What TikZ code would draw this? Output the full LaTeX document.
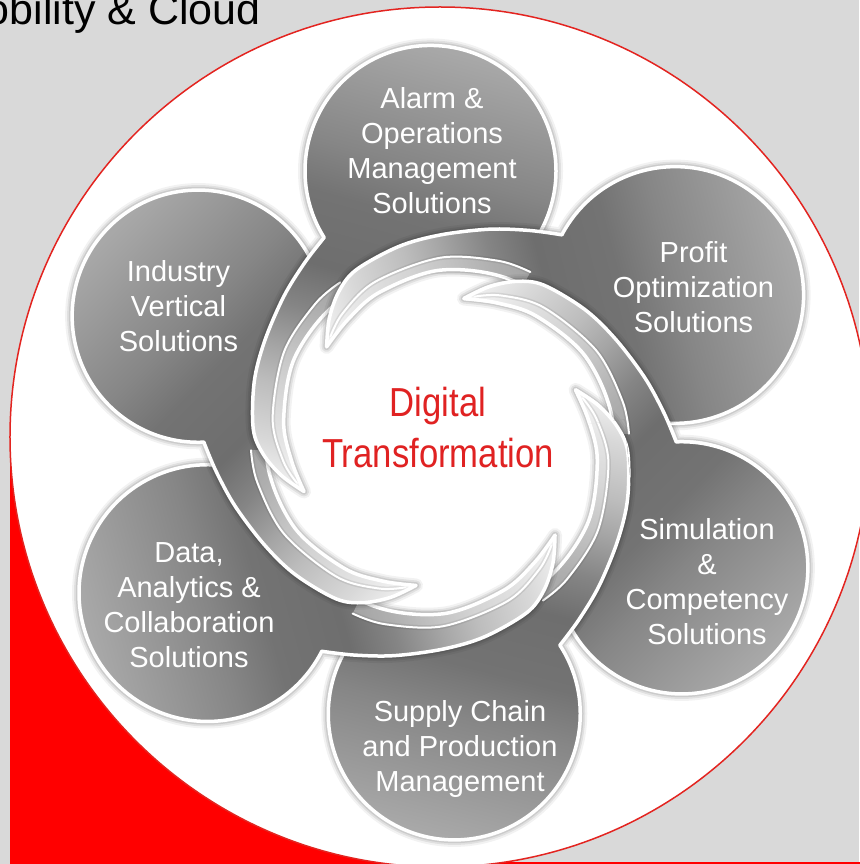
\documentclass[tikz,border=0pt]{standalone}
\usepackage{fontspec}
\setmainfont{Liberation Sans}
\newfontfamily\narrowfont[FakeStretch=0.856]{Liberation Sans}
\definecolor{bggrey}{HTML}{D9D9D9}
\definecolor{ringred}{HTML}{E32420}
\definecolor{fillred}{HTML}{FF0000}
\definecolor{titlered}{HTML}{E02222}
\definecolor{pgA}{HTML}{F2F2F2}
\definecolor{pgB}{HTML}{D8D8D8}
\definecolor{pgC}{HTML}{BDBDBD}
\definecolor{pgD}{HTML}{A6A6A6}
\definecolor{pgE}{HTML}{858585}
\definecolor{pgF}{HTML}{6E6E6E}
\definecolor{pgG}{HTML}{737373}
\definecolor{pgH}{HTML}{868686}
\definecolor{pgI}{HTML}{A8A8A8}
\pgfdeclarehorizontalshading{petalshade}{100bp}{color(0bp)=(pgA); color(30.17bp)=(pgA); color(33.62bp)=(pgB); color(38.36bp)=(pgC); color(41.38bp)=(pgD); color(45.26bp)=(pgE); color(49.14bp)=(pgF); color(55.17bp)=(pgG); color(59.48bp)=(pgH); color(69.57bp)=(pgI); color(100bp)=(pgI)}
\def\petalpath{(206,107.4) arc[start angle=120, end angle=-145, radius=124] -- (-10:174) -- plot[smooth, tension=0.55] coordinates {(-10:174) (10:173) (35:171) (58:166) (80:156) (95:148) (108:143)} -- plot[smooth, tension=0.55] coordinates {(108:143) (100:160) (92:175) (84:185) (70:193) (58:200) (45:211) (35:222) (27.5:232.3)} -- cycle}
\def\bevelpath{plot[smooth, tension=0.55] coordinates {(30:171.5) (35:171) (58:166) (80:156) (95:148) (108:143)} -- plot[smooth, tension=0.55] coordinates {(108:143) (104:147) (95:156) (80:167) (58:178) (40:184) (30:186)} -- cycle}
\def\bevelline{plot[smooth, tension=0.55] coordinates {(104:147) (95:156) (80:167) (58:178) (40:184) (30:186)}}
% #1 = angle of the head, #2 = size factor
\newcommand\petalhalo[2]{%
  \draw[rotate=#1, scale=#2, black, opacity=0.05, line width=14pt, line join=round] \petalpath;
  \draw[rotate=#1, scale=#2, black, opacity=0.07, line width=10pt, line join=round] \petalpath;
  \draw[rotate=#1, scale=#2, black, opacity=0.09, line width=6.5pt, line join=round] \petalpath;
}
\newcommand\petalbody[2]{%
  \begin{scope}
    \clip[rotate=#1, scale=#2] \petalpath;
    \begin{scope}[transform canvas={rotate=#1, scale=#2, shift={(108:143)}, rotate=-17.3}]
      \shade[shading=petalshade] (-60,-300) rectangle (520,300);
    \end{scope}
    \fill[rotate=#1, scale=#2, white, opacity=0.35] \bevelpath;
    \draw[rotate=#1, scale=#2, black, opacity=0.08, line width=5pt] \bevelline;
    \draw[rotate=#1, scale=#2, white, line width=2pt, line cap=round] \bevelline;
  \end{scope}
  \draw[rotate=#1, scale=#2, white, line width=3.5pt, line join=round] \petalpath;
}
\newcommand\haloover[4]{% halo of petal (#1,#2) clipped to petal (#3,#4)
  \begin{scope}
    \clip[rotate=#3, scale=#4] \petalpath;
    \petalhalo{#1}{#2}
  \end{scope}
}
\newcommand\drawpetal[2]{\petalhalo{#1}{#2}\petalbody{#1}{#2}}
\tikzset{
  petaltext/.style={text=white, align=center, inner sep=0pt, font=\fontsize{29}{35}\selectfont},
  centertext/.style={text=titlered, align=center, inner sep=0pt, font=\narrowfont\fontsize{40.5}{51}\selectfont},
  titletext/.style={text=black, inner sep=0pt, font=\fontsize{43}{50}\selectfont}
}
\begin{document}
\begin{tikzpicture}[x=1pt, y=1pt]
\useasboundingbox (-440,-422) rectangle (419,442);
\fill[bggrey] (-440,-422) rectangle (419,442);
\fill[fillred] (-430,-430) rectangle (0,5);
\fill[fillred] (0,-419.5) rectangle (430,-430);
\draw[ringred, line width=1.5pt, fill=white] (0,5) circle (430);
% petals: each tail lies above the head of the next petal
\drawpetal{332.5}{1.017}
\drawpetal{273}{1.016}
\drawpetal{213}{1.035}
\drawpetal{152.5}{1.017}
\drawpetal{92}{1.012}
\drawpetal{32}{1.035}
% close the ring: the first two tails go back on top of the last heads
\begin{scope}
  \clip (0,0) -- (7:186) -- (-12:195) -- (-12:412) arc[start angle=-12, end angle=92, radius=412] -- cycle;
  \haloover{332.5}{1.017}{32}{1.035}
  \haloover{332.5}{1.017}{92}{1.012}
  \petalbody{332.5}{1.017}
  \haloover{273}{1.016}{32}{1.035}
  \haloover{273}{1.016}{92}{1.012}
  \haloover{273}{1.016}{332.5}{1.017}
  \petalbody{273}{1.016}
\end{scope}
% texts
\node[petaltext] (alarm) at (-8,291) {Alarm \&\\Operations\\Management\\Solutions};
\node[petaltext] (profit) at (253.5,155) {Profit\\Optimization\\Solutions};
\node[petaltext] (industry) at (-261.5,136) {Industry\\Vertical\\Solutions};
\node[petaltext] (sim) at (267,-140) {Simulation\\\&\\Competency\\Solutions};
\node[petaltext] (supply) at (20,-307) {Supply Chain\\and Production\\Management};
\node[petaltext] (data) at (-251,-163.5) {Data,\\Analytics \&\\Collaboration\\Solutions};
\node[centertext] (dt) at (-2,14) {Digital\\Transformation};
\node[titletext, anchor=base east] (mc) at (-179,417) {Mobility \& Cloud};
\end{tikzpicture}
\end{document}
